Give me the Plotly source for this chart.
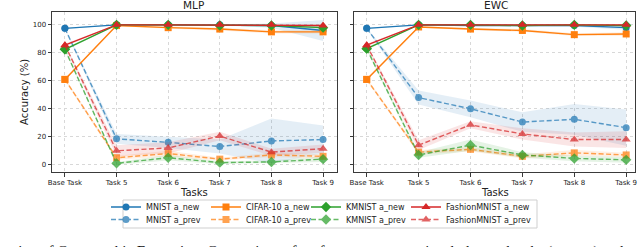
import plotly.graph_objects as go

tasks = ["Base Task", "Task 5", "Task 6", "Task 7", "Task 8", "Task 9"]
datasets = ["MNIST", "CIFAR-10", "KMNIST", "FashionMNIST"]
colors = ["#1f77b4", "#ff7f0e", "#2ca02c", "#d62728"]
symbols = ["circle", "square", "diamond", "triangle-up"]
marker_sizes = [7, 7, 8, 8]

# ---- MLP panel: mean accuracy and spread ----
mlp_mnist_new = [97.5, 100, 100, 100, 99.5, 96]
mlp_mnist_new_sd = [0.5, 0.2, 0.3, 0.3, 1.5, 7.5]
mlp_mnist_prev = [97.5, 18.5, 16, 13, 17, 18]
mlp_mnist_prev_sd = [0.5, 3.5, 4, 5, 16, 10]
mlp_cifar_new = [61, 99.5, 98, 97, 95, 95]
mlp_cifar_new_sd = [1, 0.3, 0.8, 1, 1.2, 1.2]
mlp_cifar_prev = [61, 5, 8, 4, 7, 6]
mlp_cifar_prev_sd = [1, 1.5, 2, 1, 1.5, 1.5]
mlp_kmnist_new = [82.5, 100, 100, 99.5, 99.5, 98]
mlp_kmnist_new_sd = [1, 0.2, 0.2, 0.3, 0.4, 1]
mlp_kmnist_prev = [82.5, 1, 5, 1.5, 2, 4]
mlp_kmnist_prev_sd = [1, 1, 2, 1, 1, 2]
mlp_fashion_new = [85.5, 100, 100, 100, 100, 99.5]
mlp_fashion_new_sd = [1, 0.2, 0.3, 0.2, 0.3, 0.5]
mlp_fashion_prev = [85.5, 10, 12, 20.5, 9, 11.5]
mlp_fashion_prev_sd = [1, 4, 4, 3, 2.5, 3]

# ---- EWC panel ----
ewc_mnist_new = [97.5, 100, 99.5, 99.5, 99.5, 98]
ewc_mnist_new_sd = [0.5, 0.2, 0.3, 0.5, 0.8, 1.5]
ewc_mnist_prev = [97.5, 48, 40, 30.5, 32.5, 26.5]
ewc_mnist_prev_sd = [0.5, 5, 6, 7, 11, 13]
ewc_cifar_new = [61, 98.5, 97, 96, 93, 93.5]
ewc_cifar_new_sd = [1, 0.5, 0.8, 1, 1, 1.2]
ewc_cifar_prev = [61, 9, 11, 6, 8.5, 7]
ewc_cifar_prev_sd = [1, 1.5, 1.5, 1.5, 2, 1.5]
ewc_kmnist_new = [83, 100, 100, 99.5, 100, 99.5]
ewc_kmnist_new_sd = [1, 0.2, 0.3, 0.4, 0.3, 0.4]
ewc_kmnist_prev = [83, 7, 14, 7, 4.5, 3.5]
ewc_kmnist_prev_sd = [1, 2, 4, 2, 2, 2]
ewc_fashion_new = [85.5, 100, 100, 100, 100, 100]
ewc_fashion_new_sd = [1, 0.2, 0.2, 0.2, 0.2, 0.3]
ewc_fashion_prev = [85.5, 14, 28.5, 22, 18, 18]
ewc_fashion_prev_sd = [1, 3.5, 2.5, 4, 5, 6]

panel_titles = ["MLP", "EWC"]
y_ticks = [0, 20, 40, 60, 80, 100]
caption = ("Figure 3: Representation of Catastrophic Forgetting: Comparison of performance "
           "on previously learned tasks (a_prev) and new tasks (a_new) across the task sequence.")

panels = [
    [(mlp_mnist_new, mlp_mnist_new_sd, mlp_mnist_prev, mlp_mnist_prev_sd),
     (mlp_cifar_new, mlp_cifar_new_sd, mlp_cifar_prev, mlp_cifar_prev_sd),
     (mlp_kmnist_new, mlp_kmnist_new_sd, mlp_kmnist_prev, mlp_kmnist_prev_sd),
     (mlp_fashion_new, mlp_fashion_new_sd, mlp_fashion_prev, mlp_fashion_prev_sd)],
    [(ewc_mnist_new, ewc_mnist_new_sd, ewc_mnist_prev, ewc_mnist_prev_sd),
     (ewc_cifar_new, ewc_cifar_new_sd, ewc_cifar_prev, ewc_cifar_prev_sd),
     (ewc_kmnist_new, ewc_kmnist_new_sd, ewc_kmnist_prev, ewc_kmnist_prev_sd),
     (ewc_fashion_new, ewc_fashion_new_sd, ewc_fashion_prev, ewc_fashion_prev_sd)],
]


def rgba(hex_color, a):
    h = hex_color.lstrip("#")
    r, g, b = int(h[0:2], 16), int(h[2:4], 16), int(h[4:6], 16)
    return f"rgba({r},{g},{b},{a})"


fig = go.Figure()

for p, series in enumerate(panels):
    xa = "x" if p == 0 else "x2"
    ya = "y" if p == 0 else "y2"
    for i, (new, new_sd, prev, prev_sd) in enumerate(series):
        c = colors[i]
        for kind, mean, sd in (("new", new, new_sd), ("prev", prev, prev_sd)):
            upper = [m + s for m, s in zip(mean, sd)]
            lower = [m - s for m, s in zip(mean, sd)]
            fig.add_trace(go.Scatter(
                x=tasks + tasks[::-1], y=upper + lower[::-1],
                fill="toself", fillcolor=rgba(c, 0.13 if kind == "new" else 0.12),
                line=dict(width=0), mode="lines", hoverinfo="skip",
                showlegend=False, xaxis=xa, yaxis=ya))
            fig.add_trace(go.Scatter(
                x=tasks, y=mean, mode="lines+markers",
                name=f"{datasets[i]} a_{kind}",
                line=dict(color=c, width=1.4,
                          dash="solid" if kind == "new" else "5px,2.5px"),
                marker=dict(symbol=symbols[i], size=marker_sizes[i], color=c,
                            line=dict(width=0)),
                opacity=1.0 if kind == "new" else 0.72,
                legend="legend" if kind == "new" else "legend2",
                legendrank=i + 1,
                legendwidth=95 if i == 3 else None,
                showlegend=(p == 0),
                xaxis=xa, yaxis=ya))

axis_common = dict(
    showline=True, mirror=True, linecolor="#3a3a3a", linewidth=1,
    ticks="outside", ticklen=3.5, tickwidth=0.8, tickcolor="#3a3a3a",
    showgrid=True, gridcolor="#d8d8d8", gridwidth=0.8, griddash="dot",
    zeroline=False, tickfont=dict(family="DejaVu Sans", size=7, color="#222"),
)

legend_common = dict(
    orientation="h", x=106 / 640, xanchor="left", yanchor="middle",
    entrywidth=55, entrywidthmode="pixels", itemwidth=30,
    font=dict(family="DejaVu Sans", size=8, color="#222"),
    bgcolor="rgba(0,0,0,0)", borderwidth=0,
)

fig.update_layout(
    width=640, height=247,
    margin=dict(l=0, r=0, t=12, b=75, autoexpand=False),
    paper_bgcolor="white", plot_bgcolor="white",
    font=dict(family="DejaVu Sans", color="#222"),
    xaxis=dict(domain=[52 / 640, 337 / 640], type="category",
               categoryorder="array", categoryarray=tasks,
               range=[-0.25, 5.27], anchor="y", **axis_common),
    yaxis=dict(domain=[0, 1], range=[-5.2, 109.2], tickvals=y_ticks,
               anchor="x", **axis_common),
    xaxis2=dict(domain=[354 / 640, 635 / 640], type="category",
                categoryorder="array", categoryarray=tasks,
                range=[-0.245, 5.17], anchor="y2", **axis_common),
    yaxis2=dict(domain=[0, 1], range=[-5.2, 109.2], tickvals=y_ticks,
                anchor="x2", matches="y", showticklabels=False, **axis_common),
    legend=dict(y=(172 - 207) / 160, **legend_common),
    legend2=dict(y=(172 - 219.5) / 160, **legend_common),
    shapes=[dict(type="rect", xref="paper", yref="paper",
                 x0=123 / 640, x1=537 / 640,
                 y0=(172 - 200) / 160, y1=(172 - 228) / 160,
                 line=dict(color="#cfcfcf", width=1),
                 fillcolor="rgba(255,255,255,0.8)", layer="below")],
    annotations=[
        dict(text=panel_titles[0], x=193 / 640, y=1, xref="paper", yref="paper",
             xanchor="center", yanchor="bottom", yshift=-1, showarrow=False,
             font=dict(family="DejaVu Sans", size=10.5, color="#222")),
        dict(text=panel_titles[1], x=495.5 / 640, y=1, xref="paper", yref="paper",
             xanchor="center", yanchor="bottom", yshift=-1, showarrow=False,
             font=dict(family="DejaVu Sans", size=10.5, color="#222")),
        dict(text="Tasks", x=194 / 640, y=(172 - 192) / 160, xref="paper", yref="paper",
             xanchor="center", yanchor="middle", showarrow=False,
             font=dict(family="DejaVu Sans", size=10, color="#222")),
        dict(text="Tasks", x=495 / 640, y=(172 - 192) / 160, xref="paper", yref="paper",
             xanchor="center", yanchor="middle", showarrow=False,
             font=dict(family="DejaVu Sans", size=10, color="#222")),
        dict(text="Accuracy (%)", x=24 / 640, y=0.5, xref="paper", yref="paper",
             xanchor="center", yanchor="middle", textangle=-90, showarrow=False,
             font=dict(family="DejaVu Sans", size=10, color="#222")),
        dict(text=caption, x=-113 / 640, y=(172 - 240.5) / 160, xref="paper", yref="paper",
             xanchor="left", yanchor="top", showarrow=False,
             font=dict(family="Liberation Serif", size=15, color="#111")),
    ],
)

fig.write_html(
    "out.html",
    config={"displayModeBar": False},
    post_script="document.body.style.margin='0px';document.body.style.overflow='hidden';",
)
